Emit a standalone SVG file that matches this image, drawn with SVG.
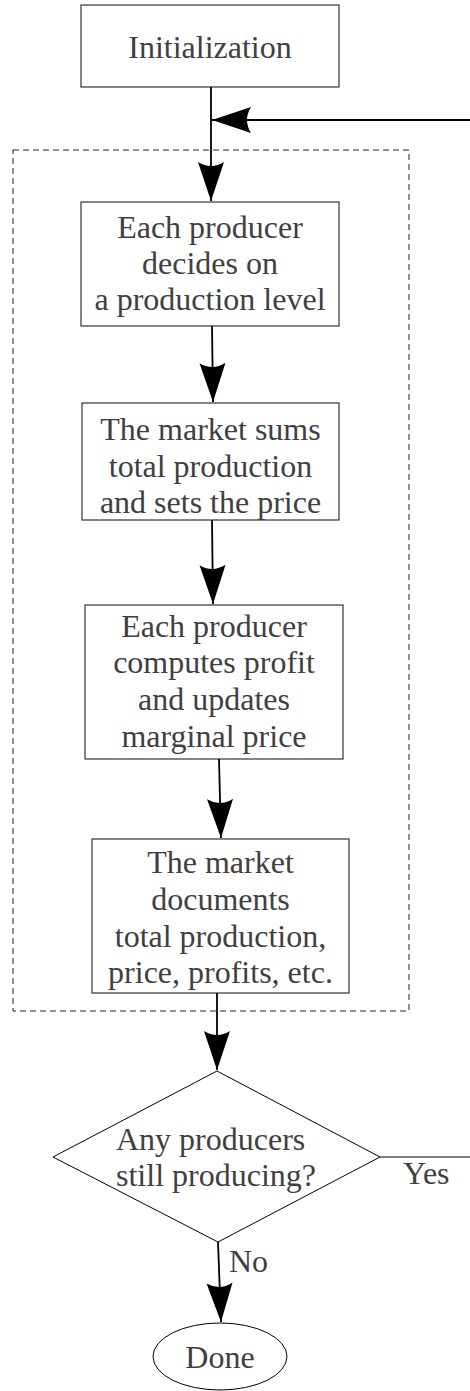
<svg xmlns="http://www.w3.org/2000/svg" width="470" height="1391" viewBox="0 0 470 1391">
<style>
.box{fill:#fff;stroke:#333;stroke-width:1.2}
.lbl{font-family:"Liberation Serif","Times New Roman",serif;font-size:32px;fill:#404040}
.c{text-anchor:middle}
.ln{fill:none;stroke:#000;stroke-width:1.8}
</style>
<defs>
<marker id="ah" markerUnits="userSpaceOnUse" markerWidth="44" markerHeight="30" viewBox="-40 -15 42 30" refX="0" refY="0" orient="auto">
<path d="M0,0 L-39,-13 Q-31,0 -39,13 Z" fill="#000"/>
</marker>
</defs>
<rect width="470" height="1391" fill="#fff"/>
<g id="loop-frame">
<rect x="13" y="150" width="396" height="861" fill="none" stroke="#222" stroke-width="1" stroke-dasharray="6,4"/>
</g>
<g id="init">
<rect class="box" x="81" y="5" width="258" height="82"/>
<text class="lbl c" x="210" y="58">Initialization</text>
</g>
<g id="decide">
<rect class="box" x="81" y="202" width="258" height="124"/>
<text class="lbl c" x="210" y="238">Each producer</text>
<text class="lbl c" x="210" y="274">decides on</text>
<text class="lbl c" x="210" y="310">a production level</text>
</g>
<g id="market">
<rect class="box" x="82" y="403" width="257" height="117"/>
<text class="lbl c" x="210.5" y="440">The market sums</text>
<text class="lbl c" x="210.5" y="477">total production</text>
<text class="lbl c" x="210.5" y="513">and sets the price</text>
</g>
<g id="profit">
<rect class="box" x="85" y="605" width="258" height="154"/>
<text class="lbl c" x="214" y="637">Each producer</text>
<text class="lbl c" x="214" y="673">computes profit</text>
<text class="lbl c" x="214" y="710">and updates</text>
<text class="lbl c" x="214" y="747">marginal price</text>
</g>
<g id="document">
<rect class="box" x="92" y="839" width="257" height="154"/>
<text class="lbl c" x="220.5" y="873">The market</text>
<text class="lbl c" x="220.5" y="910">documents</text>
<text class="lbl c" x="220.5" y="947">total production,</text>
<text class="lbl c" x="220.5" y="983">price, profits, etc.</text>
</g>
<g id="decision">
<polygon points="217,1071 380,1157 218,1242 53,1157" fill="#fff" stroke="#000" stroke-width="1"/>
<text class="lbl" x="116" y="1150">Any producers</text>
<text class="lbl" x="116" y="1186">still producing?</text>
</g>
<g id="done">
<ellipse cx="220" cy="1356.5" rx="67" ry="33.5" fill="#fff" stroke="#000" stroke-width="1"/>
<text class="lbl c" x="220" y="1368">Done</text>
</g>
<g id="connectors">
<line class="ln" x1="211" y1="87" x2="211" y2="201" marker-end="url(#ah)"/>
<line class="ln" x1="470" y1="120" x2="212" y2="120" marker-end="url(#ah)"/>
<line class="ln" x1="212" y1="326" x2="213" y2="402" marker-end="url(#ah)"/>
<line class="ln" x1="212" y1="520" x2="213" y2="604" marker-end="url(#ah)"/>
<line class="ln" x1="219" y1="759" x2="221" y2="838" marker-end="url(#ah)"/>
<line class="ln" x1="217" y1="993" x2="217" y2="1070" marker-end="url(#ah)"/>
<line class="ln" x1="218" y1="1242" x2="221" y2="1322" marker-end="url(#ah)"/>
<line x1="380" y1="1157" x2="470" y2="1157" stroke="#000" stroke-width="1"/>
<text class="lbl" x="403" y="1184">Yes</text>
<text class="lbl" x="229" y="1272">No</text>
</g>
</svg>
